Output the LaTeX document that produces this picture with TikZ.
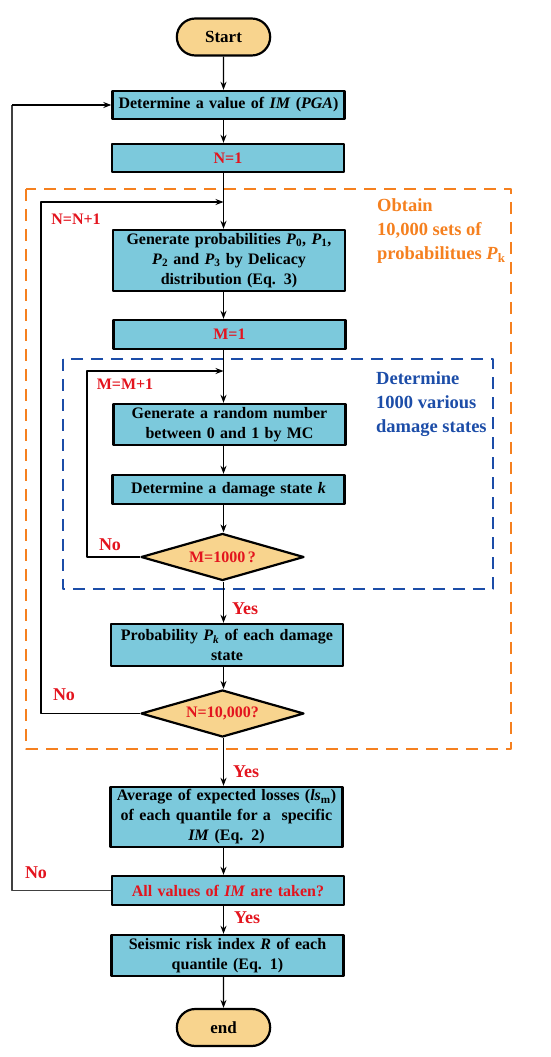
\documentclass[tikz,border=0pt]{standalone}
\usepackage{fontspec}
\setmainfont{Liberation Serif}
\usetikzlibrary{shapes.geometric,shapes.misc,arrows.meta}
\definecolor{boxblue}{HTML}{7CC9DC}
\definecolor{termfill}{HTML}{F8D48E}
\definecolor{redtxt}{HTML}{E3141E}
\definecolor{orangeln}{HTML}{F5801F}
\definecolor{blueln}{HTML}{1C4DA8}
\begin{document}
\begin{tikzpicture}[x=1pt,y=-1pt,>={Stealth[length=8pt,width=6pt]}, line join=round,
	font=\bfseries\fontsize{16}{20}\selectfont,
	box/.style={draw=black,line width=2.4pt,fill=boxblue,minimum width=232pt,inner sep=1pt,align=center,text width=230pt},
	term/.style={draw=black,line width=2.2pt,fill=termfill,rounded rectangle,minimum width=100pt,minimum height=37pt,font=\bfseries\fontsize{17}{20}\selectfont},
	decide/.style={draw=black,line width=2.2pt,fill=termfill,diamond,aspect=3.4,minimum width=163pt,minimum height=47pt,inner sep=0pt,text=redtxt},
	flow/.style={->,line width=1.1pt},
	redlbl/.style={text=redtxt,font=\bfseries\fontsize{16}{19}\selectfont},
	yeslbl/.style={text=redtxt,font=\bfseries\fontsize{18}{20}\selectfont}]
	\useasboundingbox (0,0) rectangle (550,1057);
	%\draw[gray!40] (0,0) grid[step=50] (550,1057);
	% dashed frames
	\draw[orangeln,line width=2.2pt,dash pattern=on 12pt off 8pt] (26,189) rectangle (511,749);
	\draw[blueln,line width=2.2pt,dash pattern=on 12pt off 8pt] (63,359) rectangle (493,589);
	% nodes
	\node[term] (start) at (223.5,37) {Start};
	\node[box,minimum height=28pt] (dval) at (228.5,105) {Determine a value of \textit{IM} (\textit{PGA})};
	\node[box,minimum height=28pt,text=redtxt] (n1) at (228,158) {N=1};
	\node[box,minimum height=61pt] (genp) at (229,260.5) {Generate probabilities \textit{P}\textsubscript{0}, \textit{P}\textsubscript{1},\\ \textit{P}\textsubscript{2} and \textit{P}\textsubscript{3} by Delicacy\\ distribution (Eq. 3)};
	\node[box,minimum height=29pt,text=redtxt] (m1) at (229.5,334.5) {M=1};
	\node[box,minimum height=41pt] (genr) at (229.5,424.5) {Generate a random number\\ between 0 and 1 by MC};
	\node[box,minimum height=29pt] (dmg) at (228.5,489.5) {Determine a damage state \textit{k}};
	\node[decide] (dm) at (222.5,557) {M=1000\,?};
	\node[box,minimum height=42pt] (prob) at (227,645) {Probability \textit{P}\textsubscript{\textit{k}} of each damage\\ state};
	\node[decide] (dn) at (222.5,713.5) {N=10,000?};
	\node[box,minimum height=60pt] (avg) at (226.5,817) {Average of expected losses (\textit{ls}\textsubscript{m})\\ of each quantile for a\ \ specific\\ \textit{IM} (Eq. 2)};
	\node[box,minimum height=29pt,text=redtxt] (allv) at (228,890.5) {All values of \textit{IM} are taken?};
	\node[box,minimum height=41pt] (seis) at (227.5,955.5) {Seismic risk index \textit{R} of each\\ quantile (Eq. 1)};
	\node[term] (endn) at (223.5,1027.5) {end};
	% side texts
	\node[text=orangeln,font=\bfseries\fontsize{18.5}{24}\selectfont,align=left,anchor=north west,inner sep=0pt] (obt) at (377,198) {Obtain\\ 10,000 sets of\\ probabilitues \textit{P}\textsubscript{k}};
	\node[text=blueln,font=\bfseries\fontsize{18.5}{24}\selectfont,align=left,anchor=north west,inner sep=0pt] (detm) at (376,371) {Determine\\ 1000 various\\ damage states};
	% loop corners
	\coordinate (nj) at (223.5,202);
	\coordinate (mj) at (223.5,371);
	% main flow
	\draw[flow] (start) -- (dval.north -| start);
	\draw[flow] (dval.south -| start) -- (n1.north -| start);
	\draw[flow] (n1.south -| start) -- (genp.north -| start);
	\draw[flow] (genp.south -| start) -- (m1.north -| start);
	\draw[flow] (m1.south -| start) -- (genr.north -| start);
	\draw[flow] (genr.south -| start) -- (dmg.north -| start);
	\draw[flow] (dmg.south -| start) -- (dm.north -| start);
	\draw[flow] (dm.south -| start) -- (prob.north -| start);
	\draw[flow] (prob.south -| start) -- (dn.north -| start);
	\draw[flow] (dn.south -| start) -- (avg.north -| start);
	\draw[flow] (avg.south -| start) -- (allv.north -| start);
	\draw[flow] (allv.south -| start) -- (seis.north -| start);
	\draw[flow] (seis.south -| start) -- (endn);
	% loops
	\draw[flow] (dm.west) -| (87,371) -- (mj);
	\draw[flow] (dn.west) -| (41,202) -- (nj);
	\draw[line width=1.1pt,black!75] (allv.west) -| (12,105);
	\draw[flow] (12,105) -- (dval.west);
	% labels
	\node[redlbl] (lnn) at (76,219) {N=N+1};
	\node[redlbl] (lmm) at (125,384) {M=M+1};
	\node[yeslbl] (no1) at (110,545) {No};
	\node[yeslbl] (no2) at (64,695) {No};
	\node[yeslbl] (no3) at (36,873) {No};
	\node[yeslbl] (y1) at (245,609) {Yes};
	\node[yeslbl] (y2) at (246,772) {Yes};
	\node[yeslbl] (y3) at (247,918) {Yes};
\end{tikzpicture}
\end{document}
